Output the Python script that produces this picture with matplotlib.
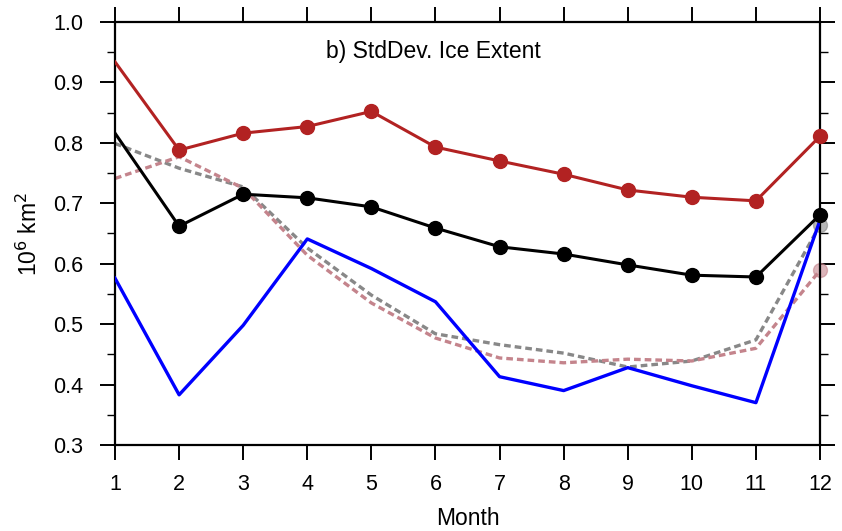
import matplotlib
matplotlib.use("Agg")
import matplotlib.pyplot as plt
from matplotlib.ticker import MultipleLocator

plt.rcParams['font.family'] = ['Liberation Sans', 'DejaVu Sans']

months = list(range(1, 13))
red_vals = [0.934, 0.788, 0.816, 0.827, 0.852, 0.793, 0.770, 0.748, 0.722, 0.710, 0.704, 0.811]
black_vals = [0.816, 0.662, 0.715, 0.709, 0.694, 0.659, 0.628, 0.616, 0.598, 0.581, 0.578, 0.681]
blue_vals = [0.576, 0.383, 0.498, 0.641, 0.592, 0.537, 0.413, 0.390, 0.428, 0.398, 0.370, 0.672]
gray_vals = [0.799, 0.758, 0.727, 0.626, 0.548, 0.484, 0.466, 0.452, 0.429, 0.439, 0.474, 0.664]
pink_vals = [0.741, 0.777, 0.725, 0.614, 0.535, 0.477, 0.444, 0.436, 0.442, 0.439, 0.460, 0.589]

red = '#B22222'
pink = '#C4848C'
gray = '#888888'

fig = plt.figure(figsize=(8.42, 5.31), dpi=100)
ax = fig.add_axes([0.1366, 0.162, 0.8373, 0.7966])

# dashed reference curves, marker only at the last month
ax.plot(months, gray_vals, color=gray, lw=2.4, ls=(0, (2, 1.2)), zorder=2)
ax.plot(months[-1:], gray_vals[-1:], 'o', color=gray, ms=10, alpha=0.6, clip_on=False, zorder=2)
ax.plot(months, pink_vals, color=pink, lw=2.4, ls=(0, (2, 1.2)), zorder=2)
ax.plot(months[-1:], pink_vals[-1:], 'o', color=pink, ms=10, alpha=0.6, clip_on=False, zorder=2)

ax.plot(months, blue_vals, color='#0000FF', lw=2.4, zorder=3)

ax.plot(months, red_vals, color=red, lw=2.2, zorder=4)
ax.plot(months[1:], red_vals[1:], 'o', color=red, ms=10, clip_on=False, zorder=4)
ax.plot(months, black_vals, color='black', lw=2.2, zorder=5)
ax.plot(months[1:], black_vals[1:], 'o', color='black', ms=10, clip_on=False, zorder=5)

ax.set_xlim(1, 12)
ax.set_ylim(0.3, 1.0)
ax.set_xticks(months)
ax.yaxis.set_major_locator(MultipleLocator(0.1))
ax.yaxis.set_minor_locator(MultipleLocator(0.05))
ax.set_yticklabels(['%.1f' % v for v in ax.get_yticks()])

ax.tick_params(which='major', direction='out', length=10.8, width=1.4,
               top=True, right=True, labelsize=15.5, pad=10)
ax.tick_params(axis='y', which='major', pad=12)
ax.tick_params(which='minor', direction='out', length=5.5, width=1.0,
               left=True, right=True)
for s in ax.spines.values():
    s.set_linewidth(1.6)

ax.text(0.452, 0.93, 'b) StdDev. Ice Extent', transform=ax.transAxes,
        ha='center', va='center', fontsize=16.5)
ax.set_xlabel('Month', fontsize=16.5, labelpad=9)
ax.set_ylabel('10$^6$ km$^2$', fontsize=16.5, labelpad=8)

fig.savefig('out.png', dpi=100)
